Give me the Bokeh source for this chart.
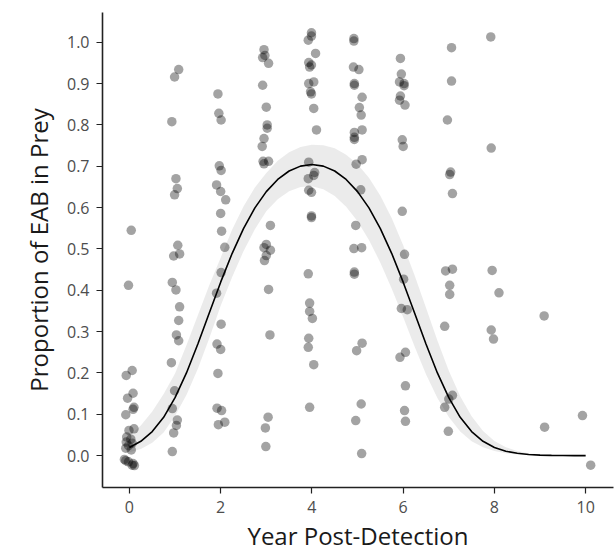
from bokeh.plotting import figure
from bokeh.models import Range1d, FixedTicker, CustomJSTickFormatter
from bokeh.embed import file_html
from bokeh.resources import INLINE

# ---- observed points (jittered year, proportion) ----
year_jit = [
    0.04, -0.02, 0.06, -0.07, 0.08, -0.04, 0.10, 0.08, -0.08, 0.10, -0.01, -0.06, 0.03, -0.07, 0.06, -0.02, -0.08, 0.04, -0.11, -0.08, -0.02, 0.08, 0.06, 0.11,
    1.08, 0.99, 0.93, 1.02, 1.05, 0.99, 1.06, 1.10, 0.97, 0.94, 1.02, 1.10, 1.08, 1.03, 1.08, 0.92, 0.99, 0.94, 1.05, 1.03, 0.97, 0.94,
    1.94, 1.96, 2.01, 1.97, 2.01, 1.91, 2.00, 2.11, 2.00, 2.02, 2.09, 2.01, 1.91, 2.01, 1.92, 2.00, 1.94, 1.92, 2.02, 1.95, 2.09,
    2.95, 2.92, 2.97, 3.05, 2.92, 3.00, 3.02, 3.02, 2.95, 2.91, 2.93, 3.05, 2.95, 3.09, 3.00, 2.95, 3.09, 3.00, 2.96, 3.05, 3.08, 3.04, 2.98, 2.99,
    3.99, 3.99, 3.92, 4.08, 3.93, 3.99, 3.95, 3.93, 4.04, 3.97, 3.99, 4.04, 4.10, 3.93, 4.06, 4.04, 3.92, 3.93, 3.99, 3.99, 3.99, 3.92, 3.95, 3.95, 4.01, 3.93, 3.92, 4.04, 3.95,
    4.92, 4.92, 4.91, 5.03, 4.93, 4.93, 5.10, 5.04, 5.08, 4.93, 5.10, 4.93, 4.93, 5.10, 4.97, 5.07, 4.96, 4.92, 5.09, 4.93, 4.93, 5.10, 4.98, 5.08, 4.96, 5.09,
    5.94, 5.96, 5.92, 6.02, 6.02, 5.94, 5.92, 6.04, 5.98, 6.00, 5.98, 6.03, 6.01, 5.96, 6.09, 6.05, 5.93, 6.05, 6.03, 6.05,
    7.06, 7.06, 6.97, 7.04, 7.02, 7.08, 6.93, 7.08, 7.02, 7.02, 6.91, 7.08, 7.00, 6.91, 6.99,
    7.92, 7.93, 7.95, 8.10, 7.93, 7.98,
    9.09, 9.10,
    9.93, 10.11,
]
prop_eab = [
    0.545, 0.412, 0.206, 0.194, 0.151, 0.139, 0.117, 0.112, 0.099, 0.065, 0.061, 0.045, 0.040, 0.033, 0.030, 0.024, 0.018, 0.014, -0.009, -0.012, -0.015, -0.019, -0.023, -0.024,
    0.934, 0.916, 0.808, 0.670, 0.646, 0.631, 0.509, 0.488, 0.483, 0.419, 0.401, 0.360, 0.327, 0.292, 0.278, 0.225, 0.157, 0.114, 0.086, 0.073, 0.055, 0.010,
    0.875, 0.828, 0.812, 0.701, 0.690, 0.655, 0.639, 0.619, 0.586, 0.543, 0.504, 0.443, 0.393, 0.318, 0.270, 0.257, 0.199, 0.115, 0.109, 0.075, 0.081,
    0.982, 0.963, 0.968, 0.949, 0.896, 0.843, 0.800, 0.792, 0.767, 0.748, 0.712, 0.712, 0.706, 0.557, 0.511, 0.503, 0.497, 0.484, 0.472, 0.402, 0.292, 0.093, 0.067, 0.022,
    1.023, 1.015, 1.005, 0.973, 0.951, 0.945, 0.940, 0.900, 0.904, 0.880, 0.875, 0.840, 0.788, 0.710, 0.685, 0.678, 0.670, 0.642, 0.637, 0.580, 0.576, 0.440, 0.369, 0.349, 0.332, 0.284, 0.262, 0.220, 0.117,
    1.009, 1.003, 0.940, 0.934, 0.900, 0.896, 0.867, 0.842, 0.824, 0.782, 0.788, 0.770, 0.765, 0.716, 0.705, 0.643, 0.557, 0.501, 0.503, 0.444, 0.439, 0.272, 0.254, 0.125, 0.085, 0.005,
    0.961, 0.923, 0.904, 0.900, 0.895, 0.870, 0.860, 0.848, 0.764, 0.748, 0.591, 0.487, 0.427, 0.356, 0.353, 0.250, 0.238, 0.169, 0.109, 0.083,
    0.987, 0.906, 0.812, 0.686, 0.680, 0.634, 0.447, 0.451, 0.412, 0.390, 0.313, 0.146, 0.137, 0.117, 0.059,
    1.013, 0.744, 0.448, 0.394, 0.304, 0.282,
    0.338, 0.069,
    0.097, -0.023,
]

# ---- fitted curve and confidence band ----
fit_year = [0.0, 0.25, 0.5, 0.75, 1.0, 1.25, 1.5, 1.75, 2.0, 2.25, 2.5, 2.75, 3.0, 3.25, 3.5, 3.75,
            4.0, 4.25, 4.5, 4.75, 5.0, 5.25, 5.5, 5.75, 6.0, 6.25, 6.5, 6.75, 7.0, 7.25, 7.5, 7.75,
            8.0, 8.25, 8.5, 8.75, 9.0, 9.25, 9.5, 9.75, 10.0]
fit_prop = [0.0198, 0.0348, 0.0583, 0.0928, 0.1402, 0.2001, 0.2700, 0.3451, 0.4197, 0.4889, 0.5492, 0.5993, 0.6388, 0.6682, 0.6886, 0.7004,
            0.7043, 0.7004, 0.6886, 0.6682, 0.6388, 0.5993, 0.5492, 0.4889, 0.4197, 0.3451, 0.2700, 0.2001, 0.1402, 0.0928, 0.0583, 0.0348,
            0.0198, 0.0108, 0.0057, 0.0029, 0.0014, 0.0006, 0.0003, 0.0001, 0.0001]
fit_lower = [0.0082, 0.0163, 0.0310, 0.0563, 0.0967, 0.1467, 0.2101, 0.2838, 0.3626, 0.4318, 0.4944, 0.5479, 0.5915, 0.6202, 0.6396, 0.6501,
             0.6520, 0.6444, 0.6279, 0.6024, 0.5671, 0.5218, 0.4669, 0.4038, 0.3354, 0.2639, 0.1971, 0.1394, 0.0933, 0.0587, 0.0351, 0.0201,
             0.0110, 0.0057, 0.0028, 0.0014, 0.0006, 0.0003, 0.0001, 0.0000, 0.0000]
fit_upper = [0.0474, 0.0729, 0.1069, 0.1494, 0.1988, 0.2669, 0.3397, 0.4120, 0.4790, 0.5462, 0.6029, 0.6485, 0.6835, 0.7131, 0.7337, 0.7464,
             0.7518, 0.7511, 0.7434, 0.7282, 0.7047, 0.6720, 0.6289, 0.5745, 0.5090, 0.4364, 0.3579, 0.2788, 0.2052, 0.1437, 0.0951, 0.0597,
             0.0356, 0.0205, 0.0114, 0.0060, 0.0031, 0.0015, 0.0007, 0.0003, 0.0001]

x_ticks = [0, 2, 4, 6, 8, 10]
y_ticks = [0.0, 0.1, 0.2, 0.3, 0.4, 0.5, 0.6, 0.7, 0.8, 0.9, 1.0]

FONT = "Open Sans"

p = figure(width=614, height=554, output_backend="svg", toolbar_location=None,
           x_range=Range1d(-0.59, 10.61), y_range=Range1d(-0.077, 1.072),
           min_border_left=102, min_border_right=1, min_border_top=12, min_border_bottom=65)
p.background_fill_color = "white"
p.border_fill_color = "white"
p.outline_line_color = None
p.xgrid.grid_line_color = None
p.ygrid.grid_line_color = None

p.varea(x=fit_year, y1=fit_lower, y2=fit_upper, fill_color="#999999", fill_alpha=0.2)
p.scatter(x=year_jit, y=prop_eab, size=9.5, fill_color="black", fill_alpha=0.36, line_color=None)
p.line(x=fit_year, y=fit_prop, line_color="black", line_width=1.6)

p.xaxis.ticker = FixedTicker(ticks=x_ticks)
p.yaxis.ticker = FixedTicker(ticks=y_ticks)
p.yaxis.formatter = CustomJSTickFormatter(code="return tick.toFixed(1);")
p.xaxis.axis_label = "Year Post-Detection"
p.yaxis.axis_label = "Proportion of EAB in Prey"

for ax in (p.xaxis[0], p.yaxis[0]):
    ax.axis_line_color = "#222222"
    ax.axis_line_width = 1.6
    ax.major_tick_line_color = "#222222"
    ax.major_tick_line_width = 1.2
    ax.major_tick_out = 6
    ax.major_tick_in = 0
    ax.minor_tick_line_color = None
    ax.major_label_text_font = FONT
    ax.major_label_text_font_size = "16px"
    ax.major_label_text_color = "#4d4d4d"
    ax.axis_label_text_font = FONT
    ax.axis_label_text_font_size = "24px"
    ax.axis_label_text_font_style = "normal"
    ax.axis_label_text_color = "#1a1a1a"

p.yaxis.major_label_standoff = 7
p.yaxis.axis_label_standoff = 9
p.xaxis.major_label_standoff = 7
p.xaxis.axis_label_standoff = 3

open("out.html", "w").write(file_html(p, INLINE))
